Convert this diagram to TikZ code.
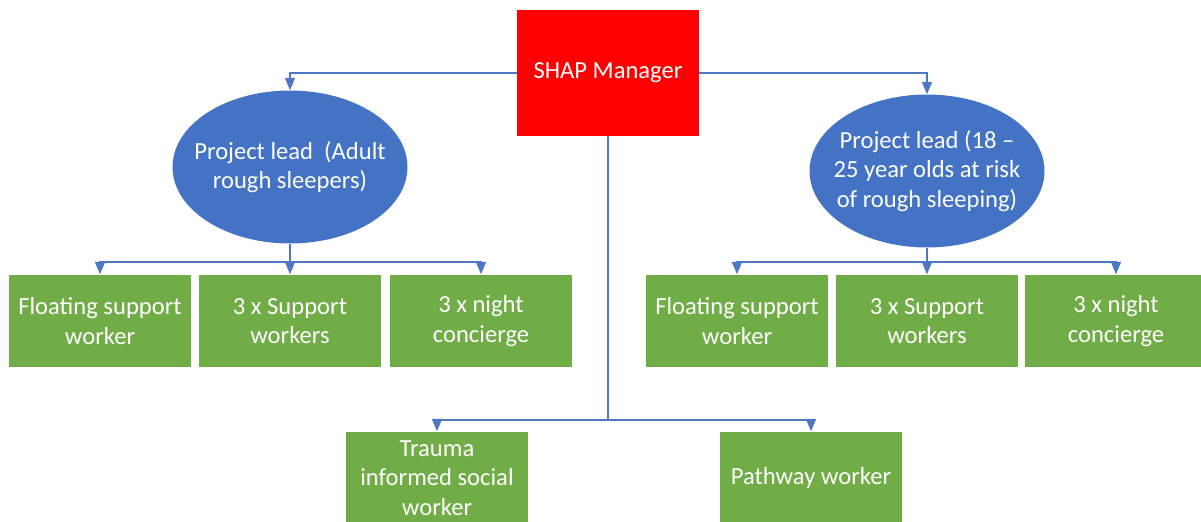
\documentclass[tikz,border=0pt]{standalone}
\usepackage{fontspec}
\setmainfont{Carlito}
\usetikzlibrary{shapes,arrows,positioning,calc}
\definecolor{mgrred}{RGB}{255,0,0}
\definecolor{leadblue}{RGB}{68,114,196}
\definecolor{staffgreen}{RGB}{112,173,71}
\definecolor{linkblue}{RGB}{79,120,196}
\tikzstyle{staff} = [rectangle, fill=staffgreen, text=white, align=center,
    minimum width=3.64cm, minimum height=1.86cm, inner sep=0pt]
\tikzset{%
    manager/.style = {rectangle, fill=mgrred, text=white, align=center,
        minimum width=3.64cm, minimum height=2.52cm},
    lead/.style    = {ellipse, fill=leadblue, inner sep=0pt,
        minimum width=4.7cm, minimum height=3.06cm},
    leadtext/.style = {text=white, align=center},
    link/.style    = {draw=linkblue, line width=0.6pt},
}

\begin{document}
\begin{tikzpicture}[x=0.02cm, y=-0.02cm, >=triangle 45,
    font=\fontsize{14}{16.8}\selectfont]
    \useasboundingbox (0,0) rectangle (1201,521);
    % We start by placing the top of the tree
    \node [manager] (shap_mgr) at (608,73) {SHAP Manager};
    \node [lead] (lead_adult) at (290,167) {};
    \node [leadtext] (lead_adult_txt) at (lead_adult) {Project lead\ \ (Adult\\rough sleepers)};
    \node [lead] (lead_young) at (927,171) {};
    \node [leadtext] (lead_young_txt) at (lead_young) {Project lead (18 --\\25 year olds at risk\\of rough sleeping)};

    % staff under each project lead
    \node [staff] (float_a) at (100,321) {Floating support\\worker};
    \node [staff] (supp_a)  at (290,321) {3 x Support\\workers};
    \node [staff] (night_a) at (481,321) {3 x night\\concierge};
    \node [staff] (float_y) at (737,321) {Floating support\\worker};
    \node [staff] (supp_y)  at (927,321) {3 x Support\\workers};
    \node [staff] (night_y) at (1116,321) {3 x night\\concierge};

    % staff straight under the manager
    \node [staff] (trauma)  at (437,478) {Trauma\\informed social\\worker};
    \node [staff] (pathway) at (811,478) {Pathway worker};

    % split points
    \coordinate (split_a) at (290,262);
    \coordinate (split_y) at (927,262);
    \coordinate (split_m) at (608,420);

    % Once the nodes are placed, connecting them is easy.
    \draw [link, ->] (shap_mgr.west) -| (lead_adult.north);
    \draw [link, ->] (shap_mgr.east) -| (lead_young.north);

    \draw [link] (lead_adult.south) -- (split_a);
    \draw [link, ->] (split_a) -| (float_a.north);
    \draw [link, ->] (split_a) -- (supp_a.north);
    \draw [link, ->] (split_a) -| (night_a.north);

    \draw [link] (lead_young.south) -- (split_y);
    \draw [link, ->] (split_y) -| (float_y.north);
    \draw [link, ->] (split_y) -- (supp_y.north);
    \draw [link, ->] (split_y) -| (night_y.north);

    \draw [link] (shap_mgr.south) -- (split_m);
    \draw [link, ->] (split_m) -| (trauma.north);
    \draw [link, ->] (split_m) -| (pathway.north);

\end{tikzpicture}
\end{document}
